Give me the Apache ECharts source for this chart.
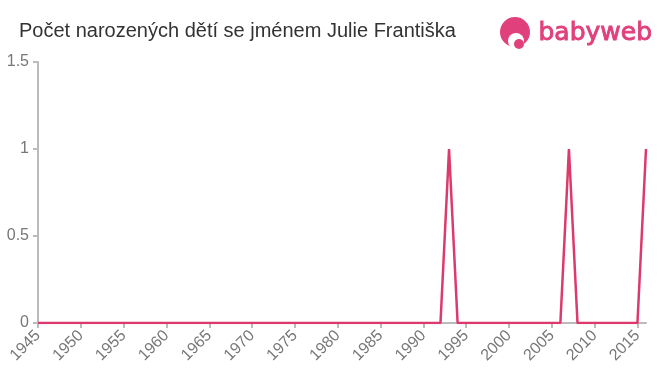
<!DOCTYPE html>
<html>
<head>
<meta charset="utf-8">
<script src="https://cdn.jsdelivr.net/npm/echarts@6/dist/echarts.min.js"></script>
<style>html,body{margin:0;padding:0;background:#fff}#c{width:660px;height:375px}</style>
</head>
<body>
<div id="c"></div>
<script>
const titleText = 'Počet narozených dětí se jménem Julie Františka';
const years = [1945,1946,1947,1948,1949,1950,1951,1952,1953,1954,1955,1956,1957,1958,1959,1960,1961,1962,1963,1964,1965,1966,1967,1968,1969,1970,1971,1972,1973,1974,1975,1976,1977,1978,1979,1980,1981,1982,1983,1984,1985,1986,1987,1988,1989,1990,1991,1992,1993,1994,1995,1996,1997,1998,1999,2000,2001,2002,2003,2004,2005,2006,2007,2008,2009,2010,2011,2012,2013,2014,2015,2016];
const counts = [0,0,0,0,0,0,0,0,0,0,0,0,0,0,0,0,0,0,0,0,0,0,0,0,0,0,0,0,0,0,0,0,0,0,0,0,0,0,0,0,0,0,0,0,0,0,0,0,1,0,0,0,0,0,0,0,0,0,0,0,0,0,1,0,0,0,0,0,0,0,0,1];
const yTicks = [0, 0.5, 1, 1.5];

const chart = echarts.init(document.getElementById('c'), null, {renderer: 'canvas'});
const pink = '#e0407c';
chart.setOption({
  animation: false,
  backgroundColor: '#fff',
  grid: {left: 38, right: 14, top: 62, bottom: 52},
  xAxis: {
    type: 'value', min: 1945, max: 2016, interval: 5,
    axisLine: {lineStyle: {color: '#bbb', width: 2}},
    axisTick: {lineStyle: {color: '#bbb', width: 2}, length: 5},
    splitLine: {show: false},
    axisLabel: {color: '#777', fontSize: 16, fontFamily: 'Liberation Sans, Arial', rotate: 45, margin: 10, showMaxLabel: false,
      formatter: v => (v % 5 === 0 ? String(v) : '')}
  },
  yAxis: {
    type: 'value', min: yTicks[0], max: yTicks[yTicks.length-1], interval: 0.5,
    axisLine: {show: true, lineStyle: {color: '#bbb', width: 2}},
    axisTick: {show: true, lineStyle: {color: '#bbb', width: 2}, length: 5},
    splitLine: {show: false},
    axisLabel: {color: '#777', fontSize: 16, fontFamily: 'Liberation Sans, Arial', margin: 9}
  },
  series: [{
    type: 'line',
    data: years.map((y, i) => [y, counts[i]]),
    showSymbol: false,
    lineStyle: {color: '#dc3a6c', width: 2.5},
    itemStyle: {color: '#dc3a6c'}
  }],
  graphic: [
    {type: 'text', left: 19, top: 21, style: {text: titleText, fill: '#333', font: '20px "Liberation Sans", Arial'}},
    {type: 'circle', shape: {cx: 515, cy: 32, r: 15}, style: {fill: pink}},
    {type: 'circle', shape: {cx: 516, cy: 41, r: 8}, style: {fill: '#fff'}},
    {type: 'circle', shape: {cx: 519, cy: 44, r: 5}, style: {fill: pink}},
    {type: 'text', left: 538, top: 21, style: {text: 'babyweb', fill: pink, stroke: pink, lineWidth: 0.9, font: '25px "DejaVu Sans", Arial'}}
  ]
});
</script>
</body>
</html>
